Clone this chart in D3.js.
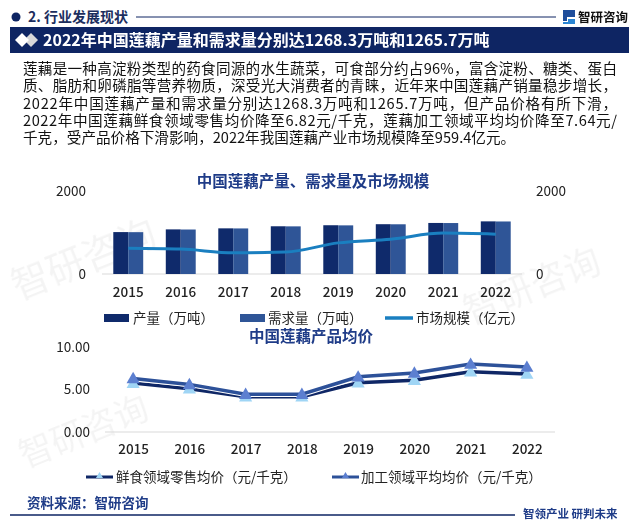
<!DOCTYPE html>
<html>
<head>
<meta charset="utf-8">
<script src="https://cdn.jsdelivr.net/npm/d3@7"></script>
<style>
  body { margin: 0; background: #fff; }
  svg text { font-family: "Noto Sans CJK SC", "Noto Sans", sans-serif; }
</style>
</head>
<body>
<div id="chart"></div>
<script>
// data
const years = ["2015", "2016", "2017", "2018", "2019", "2020", "2021", "2022"];
const output = [1010, 1075, 1100, 1150, 1175, 1200, 1230, 1268.3];   // 产量（万吨）
const demand = [1008, 1072, 1098, 1148, 1172, 1198, 1228, 1265.7];   // 需求量（万吨）
const marketSize = [620, 600, 510, 530, 750, 840, 985, 959.4];       // 市场规模（亿元）
const freshPrice = [5.75, 5.1, 4.15, 4.15, 5.8, 6.1, 7.1, 6.82];     // 鲜食领域零售均价
const processPrice = [6.3, 5.6, 4.45, 4.45, 6.5, 6.95, 8.0, 7.64];   // 加工领域平均均价
const leftTicks = [0, 2000];
const priceTicks = [0, 5, 10];

const paragraph = [
  "莲藕是一种高淀粉类型的药食同源的水生蔬菜，可食部分约占96%，富含淀粉、糖类、蛋白",
  "质、脂肪和卵磷脂等营养物质，深受光大消费者的青睐，近年来中国莲藕产销量稳步增长，",
  "2022年中国莲藕产量和需求量分别达1268.3万吨和1265.7万吨，但产品价格有所下滑，",
  "2022年中国莲藕鲜食领域零售均价降至6.82元/千克，莲藕加工领域平均均价降至7.64元/",
  "千克，受产品价格下滑影响，2022年我国莲藕产业市场规模降至959.4亿元。"
];

const navy = "#0e2563";
const darkBar = "#0f2a6b";
const lightBar = "#2f5597";
const lineBlue = "#1a7fc0";

const svg = d3.select("#chart").append("svg")
  .attr("width", 638)
  .attr("height", 527);

// faint watermarks
const wm = svg.append("g").attr("fill", "#000").attr("opacity", 0.045);
[[18, 300, 38], [470, 325, 36], [25, 468, 34]].forEach(p => {
  wm.append("text").attr("transform", `translate(${p[0]},${p[1]}) rotate(-22)`)
    .attr("font-size", p[2]).text("智研咨询");
});

// header
svg.append("circle").attr("cx", 16).attr("cy", 17).attr("r", 4.5).attr("fill", navy);
svg.append("text").attr("x", 28).attr("y", 22).attr("font-size", 14).attr("font-weight", "bold")
  .attr("fill", "#1c2e5e").text("2. 行业发展现状");
svg.append("line").attr("x1", 136).attr("x2", 556).attr("y1", 17).attr("y2", 17)
  .attr("stroke", navy).attr("stroke-width", 1);
// logo
const logo = svg.append("g").attr("transform", "translate(563,10)");
logo.append("path").attr("d", "M0,0 H12 V7 H4 V11 H0 Z").attr("fill", "#1f4e9c");
logo.append("path").attr("d", "M5,9 H12 V14 H0 V12 H5 Z").attr("fill", "#2b86d4");
svg.append("text").attr("x", 578).attr("y", 22).attr("font-size", 12.5).attr("font-weight", "bold")
  .attr("fill", "#111").text("智研咨询");

// banner
svg.append("rect").attr("x", 10).attr("y", 27).attr("width", 619).attr("height", 26).attr("fill", navy);
svg.append("path").attr("d", "M31,33 L38,40 L31,47 L24,40 Z").attr("fill", "#d9d9d9");
svg.append("path").attr("d", "M22,33 L29,40 L22,47 L15,40 Z").attr("fill", "#fff");
svg.append("text").attr("x", 43).attr("y", 46).attr("font-size", 16).attr("font-weight", "bold")
  .attr("fill", "#fff").text("2022年中国莲藕产量和需求量分别达1268.3万吨和1265.7万吨");

// paragraph
svg.append("g").selectAll("text").data(paragraph).join("text")
  .attr("x", 23)
  .attr("y", (d, i) => 74 + i * 17.3)
  .attr("font-size", 14.6)
  .attr("fill", "#111")
  .attr("textLength", (d, i) => i < 4 ? 594 : null)
  .attr("lengthAdjust", "spacing")
  .text(d => d);

// chart 1: output, demand, market size
svg.append("text").attr("x", 313).attr("y", 187).attr("text-anchor", "middle")
  .attr("font-size", 15.5).attr("font-weight", "bold").attr("fill", "#1f3c88")
  .text("中国莲藕产量、需求量及市场规模");

const x = d3.scaleBand().domain(years).range([102, 522]).paddingInner(0.43).paddingOuter(0.215);
const xSub = d3.scaleBand().domain(["output", "demand"]).range([0, x.bandwidth()]);
const y = d3.scaleLinear().domain([0, 2000]).range([274, 191]);
const yR = d3.scaleLinear().domain([0, 2000]).range([274, 191]);

svg.append("line").attr("x1", 102).attr("x2", 522).attr("y1", 274).attr("y2", 274)
  .attr("stroke", "#d9d9d9");

const groups = svg.append("g").selectAll("g").data(years).join("g")
  .attr("transform", d => `translate(${x(d)},0)`);
groups.append("rect")
  .attr("x", xSub("output")).attr("width", xSub.bandwidth())
  .attr("y", (d, i) => y(output[i])).attr("height", (d, i) => y(0) - y(output[i]))
  .attr("fill", darkBar);
groups.append("rect")
  .attr("x", xSub("demand")).attr("width", xSub.bandwidth())
  .attr("y", (d, i) => y(demand[i])).attr("height", (d, i) => y(0) - y(demand[i]))
  .attr("fill", lightBar);

const sizeLine = d3.line()
  .x((d, i) => x(years[i]) + x.bandwidth() / 2)
  .y(d => yR(d))
  .curve(d3.curveMonotoneX);
svg.append("path").datum(marketSize).attr("d", sizeLine)
  .attr("fill", "none").attr("stroke", lineBlue).attr("stroke-width", 3);

const axL = svg.append("g").attr("transform", "translate(90,0)")
  .call(d3.axisLeft(y).tickValues(leftTicks).tickSize(0).tickPadding(4).tickFormat(d3.format("d")));
const axR = svg.append("g").attr("transform", "translate(532,0)")
  .call(d3.axisRight(yR).tickValues(leftTicks).tickSize(0).tickPadding(4).tickFormat(d3.format("d")));
const axB = svg.append("g").attr("transform", "translate(0,274)")
  .call(d3.axisBottom(x).tickSize(0).tickPadding(13));
[axL, axR, axB].forEach(a => {
  a.select(".domain").remove();
  a.selectAll("text").attr("font-size", 13.5).attr("fill", "#222")
    .style("font-family", "'Noto Sans CJK SC', sans-serif");
});
axB.selectAll("text").attr("font-weight", 500);

// legend 1
const lg1 = svg.append("g").attr("font-size", 13.5).attr("fill", "#222");
lg1.append("rect").attr("x", 104).attr("y", 314).attr("width", 25).attr("height", 8).attr("fill", darkBar);
lg1.append("text").attr("x", 133).attr("y", 323).text("产量（万吨）");
lg1.append("rect").attr("x", 240).attr("y", 314).attr("width", 25).attr("height", 8).attr("fill", lightBar);
lg1.append("text").attr("x", 268).attr("y", 323).text("需求量（万吨）");
lg1.append("line").attr("x1", 385).attr("x2", 413).attr("y1", 318).attr("y2", 318)
  .attr("stroke", lineBlue).attr("stroke-width", 3.5);
lg1.append("text").attr("x", 416).attr("y", 323).text("市场规模（亿元）");

// chart 2: average prices
svg.append("text").attr("x", 311).attr("y", 342).attr("text-anchor", "middle")
  .attr("font-size", 15.5).attr("font-weight", "bold").attr("fill", "#1f3c88")
  .text("中国莲藕产品均价");

const x2 = d3.scalePoint().domain(years).range([105, 555]).padding(0.5);
const y2 = d3.scaleLinear().domain([0, 10]).range([432, 347]);

svg.append("line").attr("x1", 105).attr("x2", 555).attr("y1", 432).attr("y2", 432)
  .attr("stroke", "#d9d9d9");

const ay2 = svg.append("g").attr("transform", "translate(94,0)")
  .call(d3.axisLeft(y2).tickValues(priceTicks).tickSize(0).tickPadding(4).tickFormat(d3.format(".2f")));
const ax2 = svg.append("g").attr("transform", "translate(0,432)")
  .call(d3.axisBottom(x2).tickSize(0).tickPadding(12));
[ay2, ax2].forEach(a => {
  a.select(".domain").remove();
  a.selectAll("text").attr("font-size", 13.5).attr("fill", "#222")
    .style("font-family", "'Noto Sans CJK SC', sans-serif");
});
ax2.selectAll("text").attr("font-weight", 500);

const priceLine = d3.line().x((d, i) => x2(years[i])).y(d => y2(d));
const tri = d3.symbol().type(d3.symbolTriangle).size(75);

const priceSeries = [
  { values: freshPrice, line: "#0f2766", marker: "#9fd5f5" },
  { values: processPrice, line: "#2d5199", marker: "#5c7fd0" }
];
priceSeries.forEach(s => {
  svg.append("path").datum(s.values).attr("d", priceLine)
    .attr("fill", "none").attr("stroke", "#fff").attr("stroke-width", 5.5);
  svg.append("path").datum(s.values).attr("d", priceLine)
    .attr("fill", "none").attr("stroke", s.line).attr("stroke-width", 3.5);
});
priceSeries.forEach(s => {
  svg.append("g").selectAll("path").data(s.values).join("path")
    .attr("d", tri)
    .attr("transform", (d, i) => `translate(${x2(years[i])},${y2(d) + 1})`)
    .attr("fill", s.marker);
});

// legend 2
const lg2 = svg.append("g").attr("font-size", 13.5).attr("fill", "#222");
[[86, 116, "鲜食领域零售均价（元/千克）", priceSeries[0]], [332, 361, "加工领域平均均价（元/千克）", priceSeries[1]]]
  .forEach(l => {
    lg2.append("line").attr("x1", l[0]).attr("x2", l[0] + 27).attr("y1", 477).attr("y2", 477)
      .attr("stroke", l[3].line).attr("stroke-width", 3);
    lg2.append("path").attr("d", d3.symbol().type(d3.symbolTriangle).size(22))
      .attr("transform", `translate(${l[0] + 13.5},476)`).attr("fill", l[3].marker);
    lg2.append("text").attr("x", l[1]).attr("y", 482).text(l[2]);
  });

// footer
svg.append("text").attr("x", 27).attr("y", 508).attr("font-size", 13.5).attr("font-weight", "bold")
  .attr("fill", "#1f3c88").text("资料来源：智研咨询");
svg.append("line").attr("x1", 10).attr("x2", 515).attr("y1", 515).attr("y2", 515)
  .attr("stroke", navy).attr("stroke-width", 1.5);
svg.append("text").attr("x", 523).attr("y", 518).attr("font-size", 11.5).attr("font-weight", "bold")
  .attr("fill", "#1f3c88").text("智领产业 研判未来");
</script>
</body>
</html>
